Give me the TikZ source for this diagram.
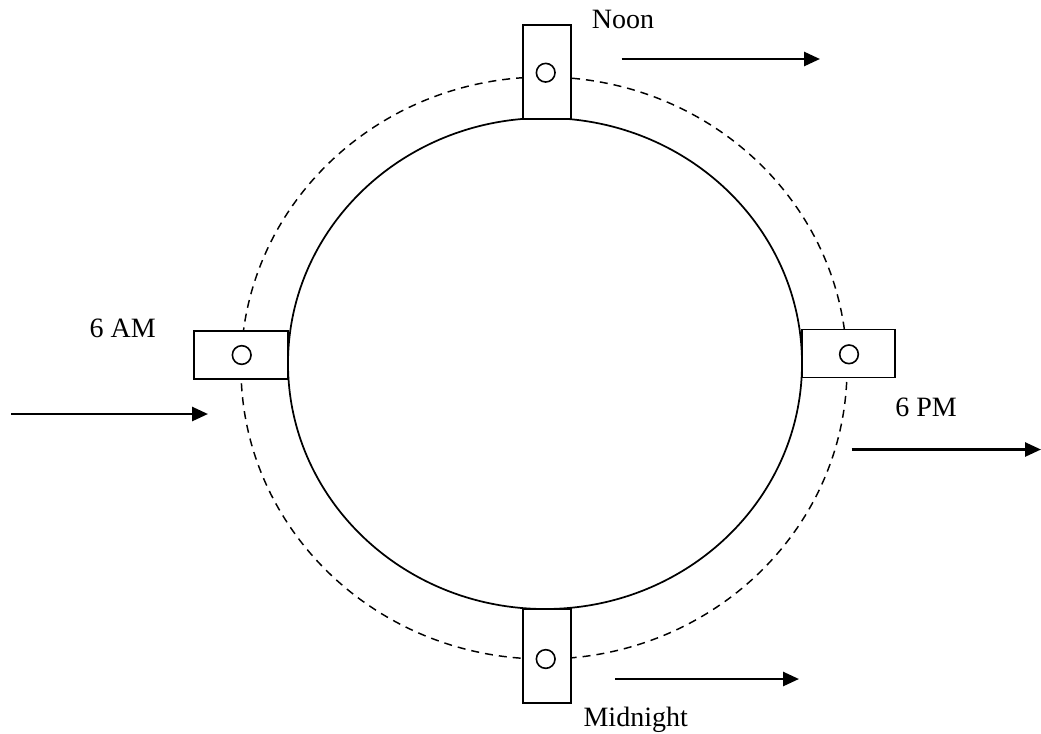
\documentclass[tikz,border=0pt]{standalone}
\usepackage{fontspec}
\setmainfont{Liberation Serif}
\usetikzlibrary{arrows.meta}
\begin{document}
\begin{tikzpicture}[x=0.75pt,y=-0.75pt,
  ln/.style={line width=1.3pt},
  vbox/.style={draw,ln,fill=white,minimum width=36pt,minimum height=70pt,inner sep=0pt},
  hbox/.style={draw,ln,fill=white,minimum width=70pt,minimum height=36pt,inner sep=0pt},
  hole/.style={draw,line width=1.2pt,circle,minimum size=14pt,inner sep=0pt},
  arr/.style={line width=2pt,-{Triangle[length=12pt,width=10.5pt]}},
  lbl/.style={font=\fontsize{21}{24}\selectfont,inner sep=0pt,anchor=base west}]
\useasboundingbox (0,0) rectangle (1041,733);
% orbits
\draw[line width=1.1pt,dash pattern=on 6pt off 4.5pt] (544,368) ellipse [x radius=303, y radius=291];
\draw[ln] (545,363.5) ellipse [x radius=257, y radius=245.5];
% boxes
\node[vbox] (top) at (546.7,72) {};
\node[hbox] (left) at (241,354.8) {};
\node[hbox] (right) at (848.3,353.5) {};
\node[vbox] (bottom) at (546.7,656) {};
\node[hole] (htop) at (545.7,72.7) {};
\node[hole] (hleft) at (241.7,355) {};
\node[hole] (hright) at (849,354.3) {};
\node[hole] (hbottom) at (545.7,659) {};
% labels
\node[lbl] (noon) at (591.7,28) {Noon};
\node[lbl] (am) at (89.3,337.7) {6 AM};
\node[lbl] (pm) at (895,416) {6 PM};
\node[lbl] (mid) at (583.3,726) {Midnight};
% arrows
\coordinate (a1) at (621.7,59); \coordinate (b1) at (820,59);
\coordinate (a2) at (11,414); \coordinate (b2) at (208,414);
\coordinate (a3) at (851.7,449.5); \coordinate (b3) at (1041,449.5);
\coordinate (a4) at (615,679); \coordinate (b4) at (799,679);
\draw[arr] (a1) -- (b1);
\draw[arr] (a2) -- (b2);
\draw[arr] (a3) -- (b3);
\draw[arr] (a4) -- (b4);
\end{tikzpicture}
\end{document}
